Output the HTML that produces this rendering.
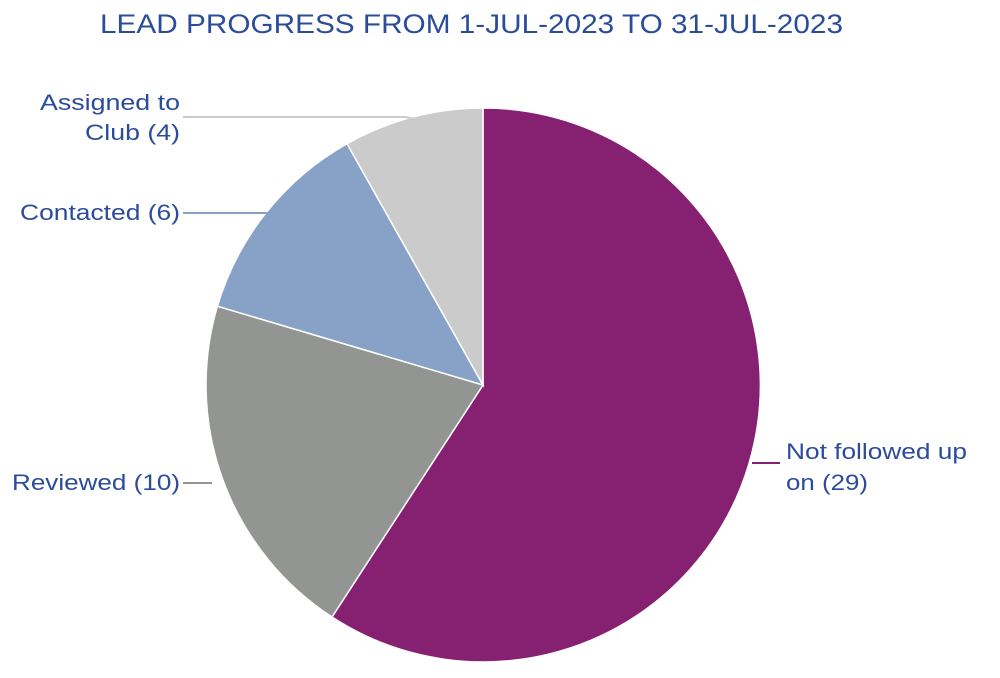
<!DOCTYPE html>
<html><head><meta charset="utf-8"><style>
html,body{margin:0;padding:0;background:#fff;}
svg{display:block;}
text{font-family:"Liberation Sans",Arial,sans-serif;fill:#2b4c9b;}
</style></head><body>
<svg width="1000" height="678" viewBox="0 0 1000 678" xmlns="http://www.w3.org/2000/svg">
<text x="100" y="33" font-size="27" textLength="743" lengthAdjust="spacingAndGlyphs">LEAD PROGRESS FROM 1-JUL-2023 TO 31-JUL-2023</text>
<g stroke="#fff" stroke-width="1.5">
<path d="M483,385 L483,108 A277,277 0 1,1 332,617 Z" fill="#862070"/>
<path d="M483,385 L332,617 A277,277 0 0,1 217.4,306.2 Z" fill="#939593"/>
<path d="M483,385 L217.4,306.2 A277,277 0 0,1 347,143.7 Z" fill="#87a1c7"/>
<path d="M483,385 L347,143.7 A277,277 0 0,1 483,108 Z" fill="#cbcbcb"/>
</g>
<g fill="none" stroke-width="2">
<polyline points="183,117 405,117 415,119" stroke="#cbcbcb"/>
<polyline points="183,213 268,213" stroke="#87a1c7"/>
<polyline points="183,483 212,483" stroke="#939593"/>
<polyline points="752,463 780,463" stroke="#862070"/>
</g>
<g font-size="22" lengthAdjust="spacingAndGlyphs">
<text x="40" y="110" textLength="140" lengthAdjust="spacingAndGlyphs">Assigned to</text>
<text x="85" y="140" textLength="95" lengthAdjust="spacingAndGlyphs">Club (4)</text>
<text x="20" y="220" textLength="160" lengthAdjust="spacingAndGlyphs">Contacted (6)</text>
<text x="12" y="490" textLength="168" lengthAdjust="spacingAndGlyphs">Reviewed (10)</text>
<text x="786" y="459" textLength="181" lengthAdjust="spacingAndGlyphs">Not followed up</text>
<text x="786" y="490" textLength="82" lengthAdjust="spacingAndGlyphs">on (29)</text>
</g>
</svg>
</body></html>
